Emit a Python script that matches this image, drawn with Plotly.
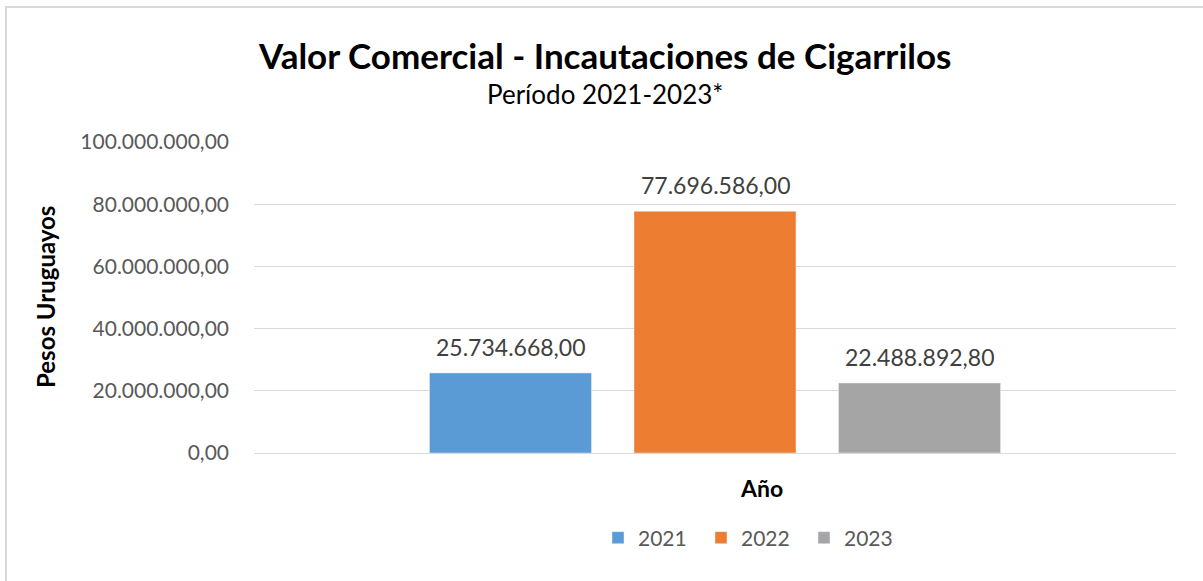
import plotly.graph_objects as go

years = ["2021", "2022", "2023"]
values = [25734668.00, 77696586.00, 22488892.80]
colors = ["#5B9BD5", "#ED7D31", "#A5A5A5"]
y_ticks = [0, 20000000, 40000000, 60000000, 80000000, 100000000]

FONT = "Lato"

def fmt(v):
    s = f"{v:,.2f}"
    return s.replace(",", "X").replace(".", ",").replace("X", ".")

fig = go.Figure()
for i, (yr, v, c) in enumerate(zip(years, values, colors)):
    fig.add_trace(go.Bar(x=[i], y=[v], name=yr, marker_color=c, width=0.792,
                         hoverinfo="skip"))
    fig.add_annotation(x=i, y=v, xref="x", yref="y", text=fmt(v), showarrow=False,
                       yanchor="middle", yshift=26,
                       font=dict(family=FONT, size=23, color="#404040"))

L, R, T, B = 254, 27, 142, 128
W, H = 1203, 581
pw, ph = W - L - R, H - T - B

def px(x):
    return (x - L) / pw

def py(y):
    return (H - B - y) / ph

fig.update_layout(
    width=W, height=H,
    margin=dict(l=L, r=R, t=T, b=B, autoexpand=False),
    paper_bgcolor="white", plot_bgcolor="white",
    separators=",.",
    barmode="overlay",
    showlegend=True,
    legend=dict(orientation="h", x=px(598), y=py(538), xanchor="left", yanchor="middle",
                font=dict(family=FONT, size=21, color="#595959"),
                itemwidth=30, entrywidth=58, entrywidthmode="pixels",
                itemclick=False, itemdoubleclick=False),
    xaxis=dict(range=[-1.254, 3.254], showticklabels=False, showgrid=False,
               zeroline=False, showline=False, fixedrange=True),
    yaxis=dict(range=[0, 100000000], tickvals=y_ticks, tickformat=",.2f",
               showgrid=True, gridcolor="#D9D9D9", gridwidth=1,
               zeroline=True, zerolinecolor="#D9D9D9", zerolinewidth=1,
               showline=False, ticks="", ticklabelstandoff=24,
               tickfont=dict(family=FONT, size=21, color="#595959"), fixedrange=True),
    font=dict(family=FONT),
)

fig.add_annotation(xref="paper", yref="paper", x=px(605), y=py(55),
                   text="<b>Valor Comercial - Incautaciones de Cigarrilos</b>", showarrow=False,
                   xanchor="center", yanchor="middle",
                   font=dict(family=FONT, size=35, color="#000000"))
fig.add_annotation(xref="paper", yref="paper", x=px(605), y=py(94),
                   text="Período 2021-2023*", showarrow=False,
                   xanchor="center", yanchor="middle",
                   font=dict(family=FONT, size=26, color="#000000"))
fig.add_annotation(xref="paper", yref="paper", x=px(45), y=py(297),
                   text="<b>Pesos Uruguayos</b>", showarrow=False, textangle=-90,
                   xanchor="center", yanchor="middle",
                   font=dict(family=FONT, size=24, color="#000000"))
fig.add_annotation(xref="paper", yref="paper", x=px(761), y=py(488),
                   text="<b>Año</b>", showarrow=False,
                   xanchor="center", yanchor="middle",
                   font=dict(family=FONT, size=23, color="#000000"))

fig.add_shape(type="rect", xref="paper", yref="paper",
              x0=px(6), x1=px(1215), y0=py(600), y1=py(7),
              line=dict(color="#D9D9D9", width=2), fillcolor="rgba(0,0,0,0)", layer="below")

fig.write_html("out.html", config={"displayModeBar": False},
               post_script="document.body.style.margin='0';")
